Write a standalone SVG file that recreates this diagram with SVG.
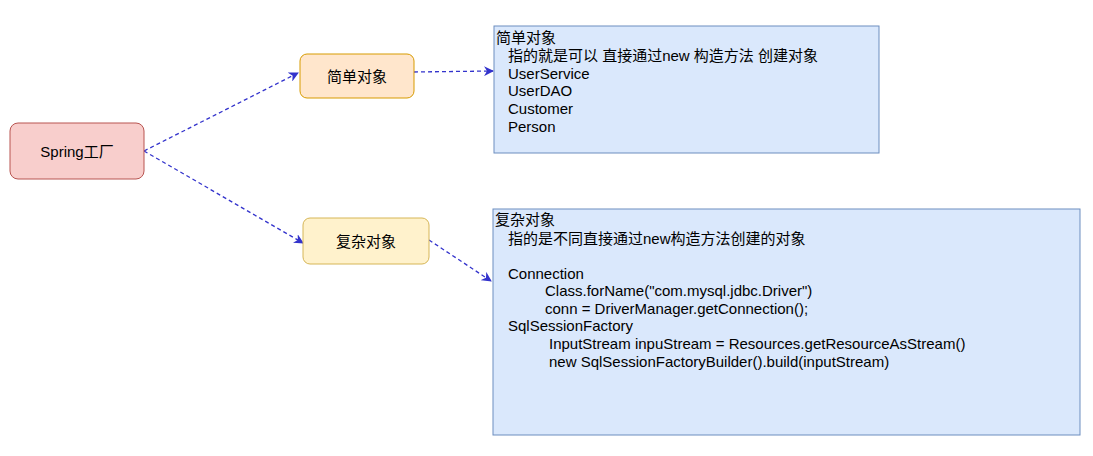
<svg xmlns="http://www.w3.org/2000/svg" width="1093" height="456" viewBox="0 0 1093 456">
<defs>
<marker id="arr" viewBox="0 0 10 10" refX="9" refY="5" markerWidth="10" markerHeight="10" markerUnits="userSpaceOnUse" orient="auto">
<path d="M0,0 L10,5 L0,10 L3,5 Z" fill="#3333cc"/>
</marker>
<style>
text{font-family:"Liberation Sans","Noto Sans CJK SC",sans-serif;font-size:15px;fill:#000}
.c{text-anchor:middle;dominant-baseline:central}
.e{fill:none;stroke:#3333cc;stroke-width:1.3;stroke-dasharray:4 3;marker-end:url(#arr)}
.note{fill:#dae8fc;stroke:#6c8ebf}
</style>
</defs>
<rect width="1093" height="456" fill="#fff"/>
<g id="connectors">
<path class="e" d="M144,151 L298,73"/>
<path class="e" d="M144,151 L303,243"/>
<path class="e" d="M414,72 L493,71"/>
<path class="e" d="M429,240 L491,281"/>
</g>
<g id="spring">
<rect x="10" y="123" width="134" height="56" rx="8" fill="#f8cecc" stroke="#b85450"/>
<text class="c" x="77" y="151">Spring工厂</text>
</g>
<g id="simple">
<rect x="300" y="54" width="114" height="44" rx="7" fill="#ffe6cc" stroke="#d79b00"/>
<text class="c" x="357" y="76">简单对象</text>
</g>
<g id="complex">
<rect x="303" y="218" width="126" height="46" rx="7" fill="#fff2cc" stroke="#d6b656"/>
<text class="c" x="366" y="241">复杂对象</text>
</g>
<g id="simple-note">
<rect class="note" x="494" y="26" width="385" height="127"/>
<text x="496" y="43">简单对象</text>
<text x="508" y="61">指的就是可以 直接通过new 构造方法 创建对象</text>
<text x="508" y="79">UserService</text>
<text x="508" y="96">UserDAO</text>
<text x="508" y="114">Customer</text>
<text x="508" y="132">Person</text>
</g>
<g id="complex-note">
<rect class="note" x="493" y="209" width="587" height="226"/>
<text x="495" y="225">复杂对象</text>
<text x="508" y="244">指的是不同直接通过new构造方法创建的对象</text>
<text x="508" y="279">Connection</text>
<text x="545" y="296">Class.forName("com.mysql.jdbc.Driver")</text>
<text x="545" y="314">conn = DriverManager.getConnection();</text>
<text x="508" y="331">SqlSessionFactory</text>
<text x="549" y="349">InputStream inpuStream = Resources.getResourceAsStream()</text>
<text x="549" y="367">new SqlSessionFactoryBuilder().build(inputStream)</text>
</g>
</svg>
